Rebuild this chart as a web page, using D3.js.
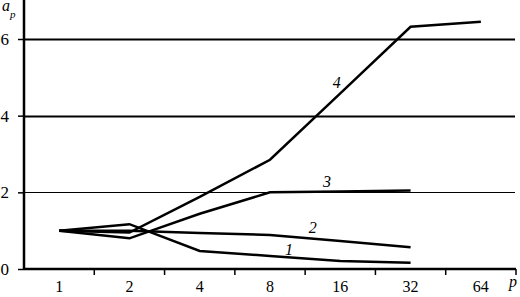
<!DOCTYPE html>
<html>
<head>
<meta charset="utf-8">
<script src="https://cdnjs.cloudflare.com/ajax/libs/d3/7.8.5/d3.min.js"></script>
<style>
  body { margin: 0; background: #fff; }
</style>
</head>
<body>
<div id="chart"></div>
<script>
var width = 520,
  height = 297;

var serif = "'Liberation Serif', 'Times New Roman', serif";

// categories on the p axis
var categories = ["1", "2", "4", "8", "16", "32", "64"];
// y ticks
var yTicks = [0, 2, 4, 6];

// series values, one per curve
var series1 = [1.0, 1.17, 0.47, 0.34, 0.21, 0.16];
var series2 = [1.0, 1.0, 0.94, 0.89, 0.73, 0.57];
var series3 = [1.0, 0.8, 1.44, 2.0, 2.02, 2.05];
var series4 = [1.0, 0.95, 1.88, 2.85, 4.58, 6.32, 6.45];
var seriesNames = ["1", "2", "3", "4"];
// where each curve's label sits: position in category steps + value
var labelAt = [[3.27, 0.37], [3.61, 0.94], [3.81, 2.14], [3.95, 4.73]];

var allSeries = [series1, series2, series3, series4];

var left = 24, right = 516, bottom = 269;

var x = d3.scaleBand()
  .domain(categories)
  .range([left, right]);

var y = d3.scaleLinear()
  .domain([0, 6])
  .range([bottom, 39]);

var svg = d3.select("#chart").append("svg")
  .attr("width", width)
  .attr("height", height)
  .attr("font-family", serif);

// grid lines
svg.append("g")
  .selectAll("line")
  .data(yTicks.filter(function(d) { return d > 0; }))
  .enter().append("line")
  .attr("x1", left)
  .attr("x2", right - 1)
  .attr("y1", function(d) { return Math.round(y(d)) + 0.5; })
  .attr("y2", function(d) { return Math.round(y(d)) + 0.5; })
  .attr("stroke", "#000")
  .attr("stroke-width", function(d) { return d == 2 ? 1 : 2; });

// y axis
var yAxis = svg.append("g")
  .attr("transform", "translate(" + left + ",0)")
  .call(d3.axisLeft(y).tickValues(yTicks).tickFormat(d3.format("d")).tickSize(6).tickPadding(9));
yAxis.attr("font-family", serif).attr("font-size", 17);
yAxis.select(".domain").remove();
yAxis.selectAll(".tick line").attr("stroke-width", 1.5);

svg.append("line")
  .attr("x1", left).attr("x2", left)
  .attr("y1", 0).attr("y2", bottom + 1)
  .attr("stroke", "#000").attr("stroke-width", 2.5);

// x axis: labels at band centres, ticks at band edges
var xAxis = svg.append("g")
  .attr("transform", "translate(0," + bottom + ")")
  .call(d3.axisBottom(x).tickSize(0).tickPadding(12));
xAxis.attr("font-family", serif).attr("font-size", 16);
xAxis.select(".domain").remove();

svg.append("g")
  .selectAll("line")
  .data(categories)
  .enter().append("line")
  .attr("x1", function(d) { return x(d) + x.bandwidth(); })
  .attr("x2", function(d) { return x(d) + x.bandwidth(); })
  .attr("y1", bottom)
  .attr("y2", bottom + 6)
  .attr("stroke", "#000")
  .attr("stroke-width", 1.5);

svg.append("line")
  .attr("x1", left).attr("x2", right)
  .attr("y1", bottom).attr("y2", bottom)
  .attr("stroke", "#000").attr("stroke-width", 2.5);

// curves
var line = d3.line()
  .x(function(d, i) { return x(categories[i]) + x.bandwidth() / 2; })
  .y(function(d) { return y(d); });

svg.append("g")
  .selectAll("path")
  .data(allSeries)
  .enter().append("path")
  .attr("d", line)
  .attr("fill", "none")
  .attr("stroke", "#000")
  .attr("stroke-width", 2.5);

// curve labels
svg.append("g")
  .selectAll("text")
  .data(seriesNames)
  .enter().append("text")
  .attr("x", function(d, i) { return x(categories[0]) + x.bandwidth() / 2 + labelAt[i][0] * x.step(); })
  .attr("y", function(d, i) { return y(labelAt[i][1]); })
  .attr("text-anchor", "middle")
  .attr("font-size", 16)
  .attr("font-style", "italic")
  .text(function(d) { return d; });

// axis names
var ap = svg.append("text")
  .attr("x", 2)
  .attr("y", 11)
  .attr("font-size", 16)
  .attr("font-style", "italic");
ap.append("tspan").text("a");
ap.append("tspan").attr("dy", 7).attr("font-size", 11).text("p");

svg.append("text")
  .attr("x", 509)
  .attr("y", 287)
  .attr("font-size", 16)
  .attr("font-style", "italic")
  .text("p");
</script>
</body>
</html>
